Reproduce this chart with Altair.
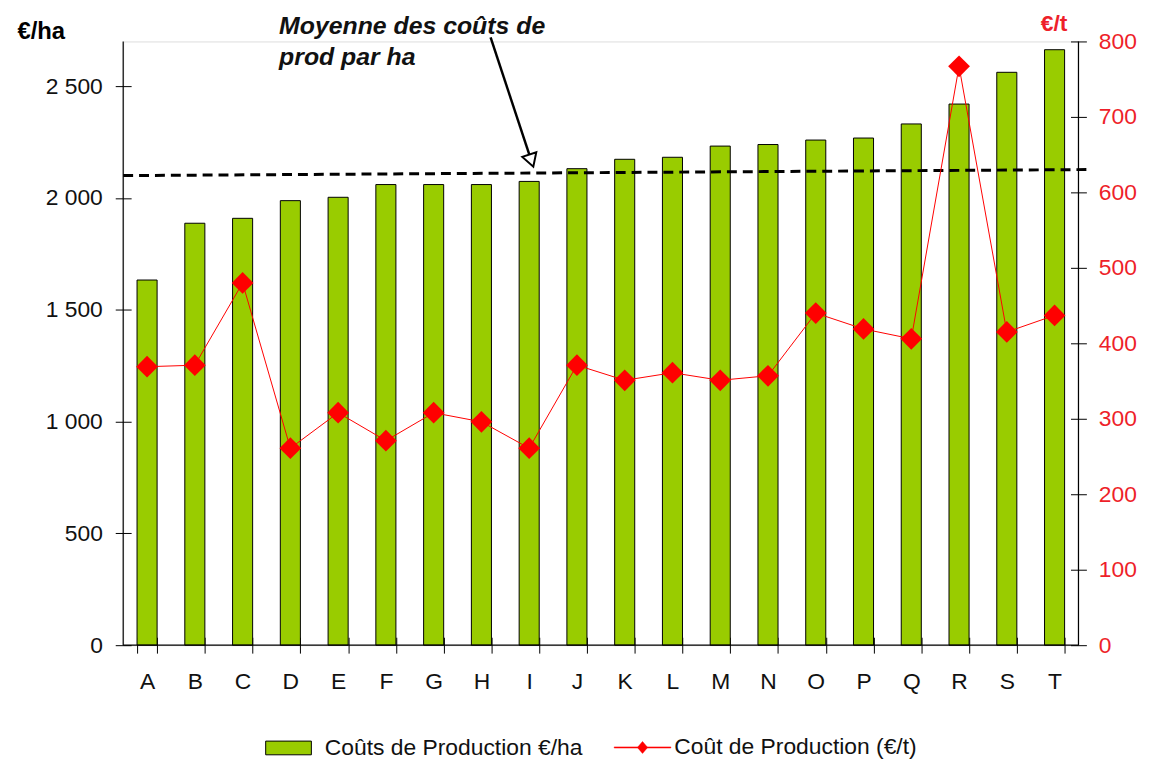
import altair as alt
import pandas as pd

# ---- data ----
categories = list("ABCDEFGHIJKLMNOPQRST")
cost_per_ha = [1633, 1887, 1909, 1988, 2003, 2060, 2060, 2060, 2074, 2131,
               2173, 2182, 2232, 2239, 2259, 2268, 2331, 2420, 2562, 2663]
cost_per_t = [369, 371, 480, 261, 308, 271, 308, 296, 261, 371,
              351, 361, 351, 357, 440, 419, 406, 767, 415, 437]
mean_line_ends = [2100, 2127]          # dashed "moyenne" line, left / right end (€/ha)
left_ticks = [0, 500, 1000, 1500, 2000, 2500]
right_ticks = [0, 100, 200, 300, 400, 500, 600, 700, 800]
bar_label = "Coûts de Production €/ha"
line_label = "Coût de Production (€/t)"
annotation = ["Moyenne des coûts de", "prod par ha"]

FONT = "Liberation Sans"
GREEN = "#99CC00"
RED = "#FF0000"
RED_TXT = "#EE1F2A"
W, H = 962, 608

df = pd.DataFrame({"cat": categories, "ha": cost_per_ha, "t": cost_per_t,
                   "bar_series": bar_label, "line_series": line_label})
mean_df = pd.DataFrame({"ha": [mean_line_ends[0]], "ha2": [mean_line_ends[1]]})
one = pd.DataFrame({"a": [0]})

x_enc = alt.X("cat:N", sort=categories,
              scale=alt.Scale(paddingInner=0.58, paddingOuter=0.29),
              axis=alt.Axis(title=None, labelAngle=0, labelFontSize=23, labelColor="#111",
                            labelPadding=18, tickBand="extent", tickSize=16, offset=-8,
                            tickColor="black", domain=False, grid=False, labelFont=FONT))

left_axis = alt.Axis(title="€/ha", titleAngle=0, titleX=-115, titleY=-3, titleAlign="left",
                     titleBaseline="alphabetic", titleFontSize=24, titleFontWeight="bold",
                     titleColor="black", titleFont=FONT,
                     values=left_ticks, labelFontSize=23, labelColor="#111", labelFont=FONT,
                     labelExpr="replace(format(datum.value, ','), ',', ' ')",
                     tickSize=16, offset=-8, labelPadding=13, tickColor="black",
                     domain=False, grid=False)
left_scale = alt.Scale(domain=[0, 2700], nice=False, zero=True)

right_axis = alt.Axis(title="€/t", titleAngle=0, titleX=-17, titleY=-11, titleAlign="center",
                      titleBaseline="alphabetic", titleFontSize=23, titleFontWeight="bold",
                      titleColor=RED_TXT, titleFont=FONT, orient="right",
                      values=right_ticks, labelFontSize=23, labelColor=RED_TXT, labelFont=FONT,
                      tickSize=16, offset=-8, labelPadding=12, tickColor="black",
                      domain=False, grid=False)
right_scale = alt.Scale(domain=[0, 800], nice=False, zero=True)

bars = alt.Chart(df).mark_bar(stroke="black", strokeWidth=1).encode(
    x=x_enc,
    y=alt.Y("ha:Q", scale=left_scale, axis=left_axis),
    color=alt.Color("bar_series:N", scale=alt.Scale(domain=[bar_label], range=[GREEN]),
                    legend=alt.Legend(title=None, orient="none", legendX=143, legendY=688,
                                      padding=0, symbolType="M-1,-0.3L1,-0.3L1,0.3L-1,0.3Z",
                                      symbolSize=2116, symbolStrokeColor="black",
                                      symbolStrokeWidth=1, symbolFillColor=GREEN,
                                      labelFontSize=23, labelFont=FONT, labelColor="#111",
                                      labelOffset=13, labelLimit=600)),
)

mean_rule = alt.Chart(mean_df).mark_rule(color="black", strokeWidth=3, strokeDash=[10, 6]).encode(
    x=alt.value(0), x2=alt.value(W + 8),
    y=alt.Y("ha:Q", scale=left_scale, axis=left_axis), y2="ha2:Q",
)

left_group = alt.layer(bars, mean_rule)

line = alt.Chart(df).mark_line(color=RED, strokeWidth=1).encode(
    x=x_enc,
    y=alt.Y("t:Q", scale=right_scale, axis=right_axis),
)
points = alt.Chart(df).mark_point(shape="diamond", filled=True, size=480, opacity=1).encode(
    x=x_enc,
    y=alt.Y("t:Q", scale=right_scale, axis=right_axis),
    color=alt.Color("line_series:N", scale=alt.Scale(domain=[line_label], range=[RED]),
                    legend=alt.Legend(title=None, orient="none", legendX=494, legendY=682,
                                      padding=0,
                                      symbolType="M-1,-0.02L1,-0.02L1,0.02L-1,0.02ZM0,-0.21L0.18,0L0,0.21L-0.18,0Z",
                                      symbolSize=3249, symbolFillColor=RED, symbolStrokeColor=RED,
                                      symbolStrokeWidth=0.5,
                                      labelFontSize=23, labelFont=FONT, labelColor="#111",
                                      labelOffset=3, labelLimit=600)),
)
right_group = alt.layer(line, points)

# axis lines (drawn as rules so the ticks can cross them)
dom_left = alt.Chart(one).mark_rule(color="black", strokeWidth=1.2).encode(
    x=alt.value(0), y=alt.value(0), y2=alt.value(H))
dom_right = alt.Chart(one).mark_rule(color="black", strokeWidth=1.2).encode(
    x=alt.value(W), y=alt.value(0), y2=alt.value(H))
dom_bottom = alt.Chart(one).mark_rule(color="black", strokeWidth=1.2).encode(
    x=alt.value(0), x2=alt.value(W), y=alt.value(H))

# annotation text + arrow
note = alt.Chart(one).mark_text(align="left", baseline="alphabetic", font=FONT, fontSize=25,
                                fontWeight="bold", fontStyle="italic", lineHeight=31,
                                color="#111").encode(
    x=alt.value(157), y=alt.value(-7), text=alt.value(annotation))
arrow_line = alt.Chart(one).mark_rule(color="black", strokeWidth=2.5).encode(
    x=alt.value(370), y=alt.value(-4), x2=alt.value(411), y2=alt.value(120))
arrow_head = alt.Chart(one).mark_point(shape="triangle-up", size=220, filled=True,
                                       fill="white", stroke="black", strokeWidth=2,
                                       opacity=1, angle=161.6).encode(
    x=alt.value(411), y=alt.value(120))

chart = alt.layer(
    left_group, right_group, dom_left, dom_right, dom_bottom, note, arrow_line, arrow_head
).resolve_scale(y="independent", color="independent").properties(
    width=W, height=H,
    autosize=alt.AutoSizeParams(type="none"),
    padding={"left": 116, "top": 31, "right": 64, "bottom": 120},
    background="white",
).configure_view(stroke=None).configure(font=FONT)

chart.save("out.html", embed_options={"renderer": "svg", "actions": False})
